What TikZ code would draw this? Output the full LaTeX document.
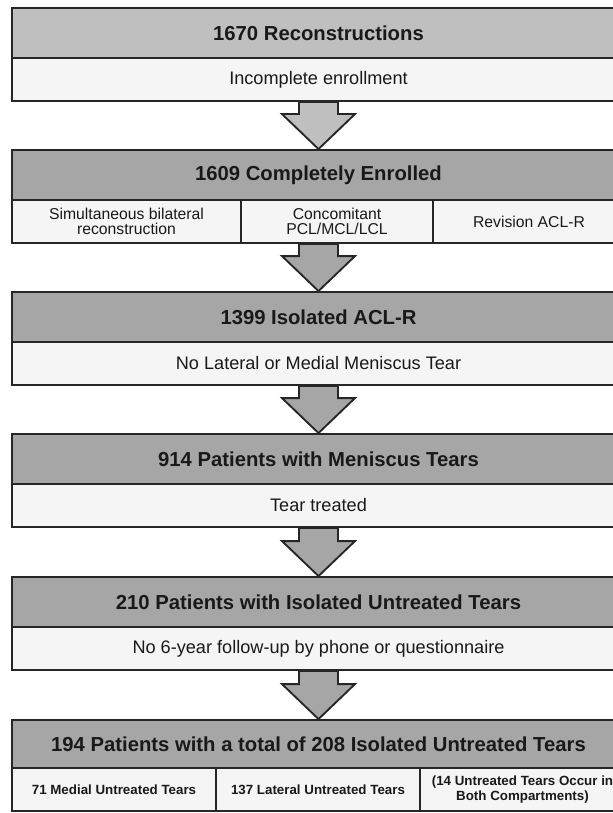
\documentclass[tikz,border=0pt]{standalone}
\usepackage{fontspec}
\setmainfont{Liberation Sans}
\usetikzlibrary{calc}

\begin{document}
\begin{tikzpicture}[
  x=0.75pt, y=-0.75pt,
  box/.style={rectangle, draw=black!85, line width=1.4pt, inner sep=0pt, text=black!90},
  stage/.style={box, fill=black!35, minimum width=459.75pt, minimum height=37.5pt,
    font=\bfseries\fontsize{15.2}{18}\selectfont},
  firststage/.style={stage, fill=black!25},
  reason/.style={box, fill=black!4, minimum width=459.75pt, minimum height=32.25pt,
    font=\fontsize{13.6}{16}\selectfont},
  cell/.style={box, fill=black!4, minimum height=32.25pt, align=center,
    font=\fontsize{11.8}{11.6}\selectfont},
  tally/.style={cell, font=\bfseries\fontsize{10}{10.6}\selectfont},
  flowarrow/.style={draw=black!85, line width=1.4pt, fill=black!35, line join=miter}
]
  % page frame (the boxes run past the right edge)
  \clip (0,0) rectangle (613,813);

  % stage 1
  \node[firststage] (h1) at (318.5, 33) {1670 Reconstructions};
  \node[reason] (w1) at (318.5, 79.5) {Incomplete enrollment};

  % stage 2 with three exclusion cells
  \node[stage] (h2) at (318.5, 175) {1609 Completely Enrolled};
  \node[cell, minimum width=171.75pt] (c1) at (126.5, 221.5) {Simultaneous bilateral\\reconstruction};
  \node[cell, minimum width=144pt] (c2) at (337, 221.5) {Concomitant\\PCL/MCL/LCL};
  \node[cell, minimum width=144pt] (c3) at (529, 221.5) {Revision ACL-R};

  % stage 3
  \node[stage] (h3) at (318.5, 317) {1399 Isolated ACL-R};
  \node[reason] (w3) at (318.5, 363.5) {No Lateral or Medial Meniscus Tear};

  % stage 4
  \node[stage] (h4) at (318.5, 459) {914 Patients with Meniscus Tears};
  \node[reason] (w4) at (318.5, 505.5) {Tear treated};

  % stage 5
  \node[stage] (h5) at (318.5, 602) {210 Patients with Isolated Untreated Tears};
  \node[reason] (w5) at (318.5, 648.5) {No 6-year follow-up by phone or questionnaire};

  % final cohort
  \node[stage, minimum height=36pt] (h6) at (318.5, 744) {194 Patients with a total of 208 Isolated Untreated Tears};
  \node[tally, minimum width=153pt] (t1) at (114, 789.5) {71 Medial Untreated Tears};
  \node[tally, minimum width=153pt] (t2) at (318, 789.5) {137 Lateral Untreated Tears};
  \node[tally, minimum width=153.75pt] (t3) at (522.5, 789.5) {(14 Untreated Tears Occur in\\Both Compartments)};

  % block arrows between stages
  \draw[flowarrow, fill=black!25] (h2.north |- w1.south) ++(-19.5,0) |- ($(h2.north)+(-36.5,-35)$) -- (h2.north)
    -- ++(36.5,-35) -- ++(-17,0) |- (h2.north |- w1.south) -- cycle;
  \draw[flowarrow] (h3.north |- c2.south) ++(-19.5,0) |- ($(h3.north)+(-36.5,-35)$) -- (h3.north)
    -- ++(36.5,-35) -- ++(-17,0) |- (h3.north |- c2.south) -- cycle;
  \draw[flowarrow] (h4.north |- w3.south) ++(-19.5,0) |- ($(h4.north)+(-36.5,-35)$) -- (h4.north)
    -- ++(36.5,-35) -- ++(-17,0) |- (h4.north |- w3.south) -- cycle;
  \draw[flowarrow] (h5.north |- w4.south) ++(-19.5,0) |- ($(h5.north)+(-36.5,-35)$) -- (h5.north)
    -- ++(36.5,-35) -- ++(-17,0) |- (h5.north |- w4.south) -- cycle;
  \draw[flowarrow] (h6.north |- w5.south) ++(-19.5,0) |- ($(h6.north)+(-36.5,-35)$) -- (h6.north)
    -- ++(36.5,-35) -- ++(-17,0) |- (h6.north |- w5.south) -- cycle;
\end{tikzpicture}
\end{document}
